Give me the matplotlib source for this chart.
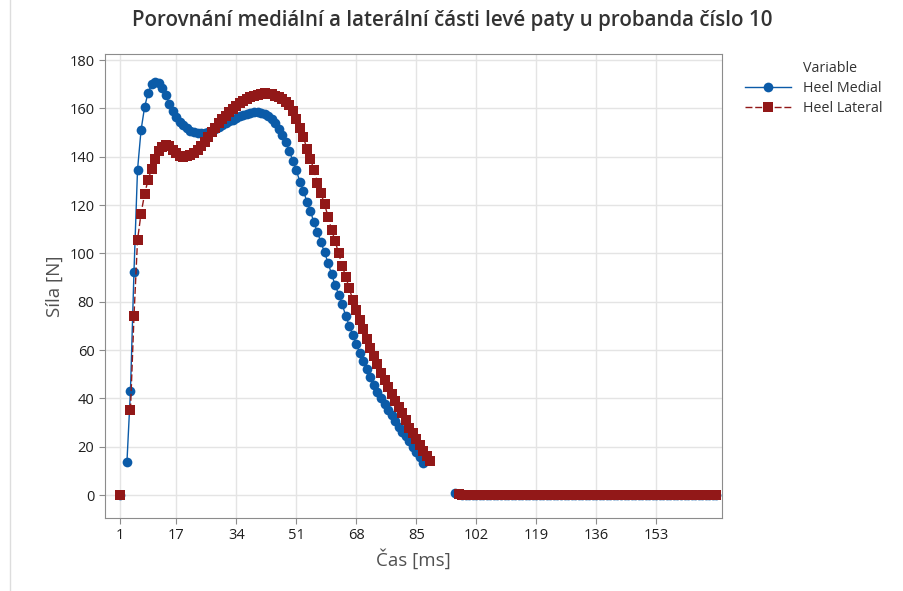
import numpy as np
import matplotlib
matplotlib.use("Agg")
import matplotlib.pyplot as plt
from matplotlib.lines import Line2D

plt.rcParams['font.family'] = ['Open Sans', 'DejaVu Sans']

nan = np.nan

# Heel Medial (N), index 1..170
medial = [0, nan, 13.5, 43, 92.5, 134.5, 151, 160.5, 166.5, 170,
          171, 170.5, 168.5, 165.5, 162, 159, 156.5, 154.5, 153, 151.7,
          150.8, 150.3, 150, 150, 150, 150.3, 150.8, 151.5, 152.3, 153,
          153.8, 154.6, 155.3, 156, 156.7, 157.3, 157.8, 158.2, 158.5, 158.6,
          158.3, 157.7, 156.8, 155.5, 153.8, 151.5, 149, 146, 142.5, 138.3,
          134.4,
          129.7, 126, 121.4, 117.5, 112.8, 108.7, 104.6, 100.4, 96.1, 91.4,
          86.9, 83, 78.9, 74.2, 70.1, 66.2, 62.4, 58.6, 55.6, 52,
          48.7, 45.5, 42.8, 40, 37.7, 35.2, 33.1, 30.7, 28.3, 26.2,
          24.4, 22.2, 20, 17.9, 15.8, 13.1,
          nan, nan, nan, nan, nan, nan, nan, nan,
          1.0, 0.3] + [0] * 73

# Heel Lateral (N), index 1..170
lateral = [0, nan, nan, 35, 74, 105.5, 116.5, 124.5, 130.5, 135,
           139, 142.5, 144.2, 144.8, 144.3, 143, 141.5, 140.5, 140, 140.2,
           140.6, 141.4, 142.8, 144.5, 146.3, 148.2, 150.2, 152, 153.8, 155.5,
           157, 158.5, 159.9, 161.1, 162.2, 163.2, 164.1, 164.8, 165.3, 165.7,
           166, 166.2, 166.1, 165.8, 165.3, 164.6, 163.8, 162.8, 161.3, 158.8,
           155.5, 152, 148, 143.4, 139.2, 134.5,
           129.3, 124.8, 120.3, 115.2, 109.7, 105.1, 100, 94.8, 90.4, 85.6,
           80.7, 76.6, 72.4, 68.6, 64.4, 60.7, 57.5, 54.2, 50.6, 47.6,
           44.6, 41.8, 39, 36.5, 33.8, 31, 27.9, 25.5, 23, 20.7,
           18.3, 16.1, 14,
           nan, nan, nan, nan, nan, nan, nan,
           0.5] + [0] * 73

index = np.arange(1, len(medial) + 1)
xticks = [1, 17, 34, 51, 68, 85, 102, 119, 136, 153]
yticks = list(range(0, 181, 20))

blue = '#0B5BA8'
red = '#921818'

fig = plt.figure(figsize=(9.04, 5.91), dpi=100)
ax = fig.add_axes([0.116, 0.1235, 0.683, 0.785])

ax.plot(index, medial, color=blue, lw=1.0, marker='o', ms=7,
        markeredgewidth=0, label='Heel Medial', zorder=3)
ax.plot(index, lateral, color=red, lw=1.0, ls=(0, (5, 2)), marker='s', ms=6.5,
        markeredgewidth=0, label='Heel Lateral', zorder=4)

ax.set_xlim(-3.25, 171.7)
ax.set_ylim(-9.5, 182.5)
ax.set_xticks(xticks)
ax.set_yticks(yticks)
ax.grid(True, color='#E4E4E4', lw=1)
ax.set_axisbelow(True)
for s in ax.spines.values():
    s.set_color('#8C8C8C')
ax.tick_params(colors='#8C8C8C', labelcolor='#1E1E1E', labelsize=10.5, length=4)

ax.set_xlabel('Čas [ms]', fontsize=13.5, color='#505050')
ax.set_ylabel('Síla [N]', fontsize=13.5, color='#505050')
fig.suptitle('Porovnání mediální a laterální části levé paty u probanda číslo 10',
             x=0.5, y=0.983, fontsize=14.8, fontweight='semibold', color='#333333')

leg = ax.legend(loc='upper left', bbox_to_anchor=(1.028, 0.955),
                frameon=False, fontsize=10.3, handlelength=3.2,
                borderaxespad=0, labelspacing=0.4)
for t in leg.get_texts():
    t.set_color('#333333')

# "Variable" heading aligned with the legend labels
fig.canvas.draw()
bb = leg.get_texts()[0].get_window_extent()
fx, fy = fig.transFigure.inverted().transform((bb.x0, bb.y1))
fig.text(fx, fy + 0.008, 'Variable', fontsize=10.3, color='#333333',
         ha='left', va='bottom')

fig.add_artist(Line2D([0.011, 0.011], [0, 1], color='#DDDDDD', lw=1))

fig.savefig('out.png', dpi=100)
